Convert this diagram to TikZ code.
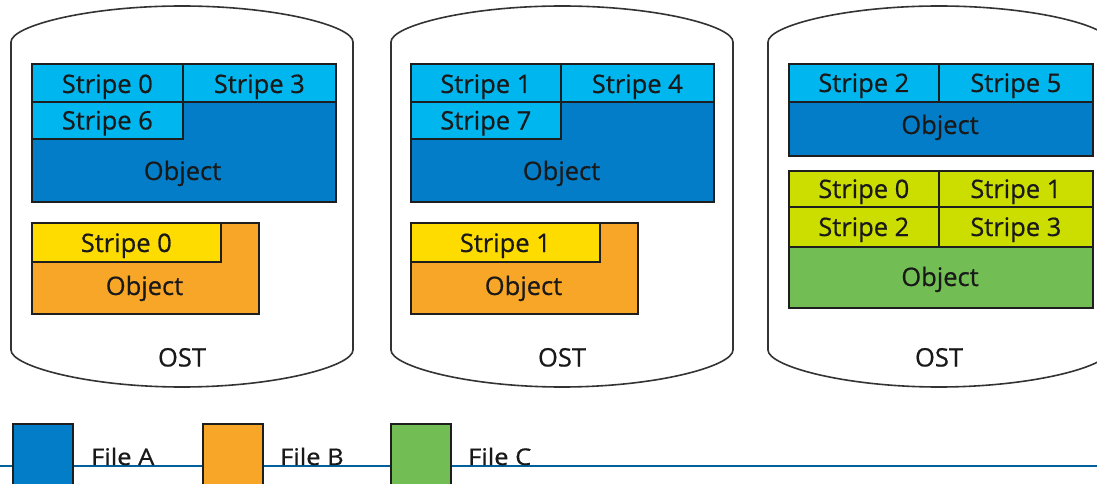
\documentclass[tikz,border=0pt]{standalone}
\usepackage{fontspec}
\setmainfont{Open Sans}[FakeBold=0.6]
\definecolor{lblue}{RGB}{0,182,238}
\definecolor{dblue}{RGB}{3,125,200}
\definecolor{yel}{RGB}{255,220,0}
\definecolor{orng}{RGB}{247,166,40}
\definecolor{lime}{RGB}{204,222,0}
\definecolor{grn}{RGB}{114,190,84}
\definecolor{lineblue}{RGB}{0,96,155}
\definecolor{edge}{RGB}{30,30,30}
\tikzset{
  box/.style={draw=edge, line width=1.6pt, inner sep=0pt, anchor=north west},
  lbl/.style={font=\fontsize{25.5}{30}\selectfont, text=black!90, inner sep=0pt, anchor=base},
  ost/.style={draw=black!80, line width=1.6pt, fill=white},
}
\newcommand{\cyl}[1]{%
  \draw[ost] (#1-171,350) -- (#1-171,42) .. controls (#1-171,26) and (#1-95,6) .. (#1,6)
    .. controls (#1+95,6) and (#1+171,26) .. (#1+171,42) -- (#1+171,350)
    .. controls (#1+171,366) and (#1+95,387) .. (#1,387)
    .. controls (#1-95,387) and (#1-171,366) .. (#1-171,350) -- cycle;}
\begin{document}
\begin{tikzpicture}[x=1pt,y=-1pt]
\clip (0,0) rectangle (1097,484);
\fill[white] (0,0) rectangle (1097,484);
% cylinders
\cyl{182}
\cyl{562}
\cyl{939}
% ---- OST 1
\node[box, fill=dblue, minimum width=304pt, minimum height=138pt] (a1obj) at (31,63) {};
\node[box, fill=lblue, minimum width=151pt, minimum height=38pt] (a1s0) at (31,63) {};
\node[box, fill=lblue, minimum width=153pt, minimum height=38pt] (a1s3) at (182,63) {};
\node[box, fill=lblue, minimum width=151pt, minimum height=37pt] (a1s6) at (31,101) {};
\node[lbl] at ([yshift=-30pt]a1s0.north) {Stripe 0};
\node[lbl] at ([yshift=-30pt]a1s3.north) {Stripe 3};
\node[lbl] at ([yshift=-28.5pt]a1s6.north) {Stripe 6};
\node[lbl] (a1objt) at (182.5,180) {Object};
\node[box, fill=orng, minimum width=227pt, minimum height=91pt] (b1obj) at (31,222) {};
\node[box, fill=yel, minimum width=189pt, minimum height=39pt] (b1s0) at (31,222) {};
\node[lbl] at ([yshift=-30pt]b1s0.north) {Stripe 0};
\node[lbl] (b1objt) at (144.5,295) {Object};
\node[lbl] (ost1) at (182,366.5) {OST};
% ---- OST 2
\node[box, fill=dblue, minimum width=303pt, minimum height=138pt] (a2obj) at (410,63) {};
\node[box, fill=lblue, minimum width=150pt, minimum height=38pt] (a2s1) at (410,63) {};
\node[box, fill=lblue, minimum width=153pt, minimum height=38pt] (a2s4) at (560,63) {};
\node[box, fill=lblue, minimum width=150pt, minimum height=37pt] (a2s7) at (410,101) {};
\node[lbl] at ([yshift=-30pt]a2s1.north) {Stripe 1};
\node[lbl] at ([yshift=-30pt]a2s4.north) {Stripe 4};
\node[lbl] at ([yshift=-28.5pt]a2s7.north) {Stripe 7};
\node[lbl] (a2objt) at (561.5,180) {Object};
\node[box, fill=orng, minimum width=227pt, minimum height=91pt] (b2obj) at (410,222) {};
\node[box, fill=yel, minimum width=189pt, minimum height=39pt] (b2s1) at (410,222) {};
\node[lbl] at ([yshift=-30pt]b2s1.north) {Stripe 1};
\node[lbl] (b2objt) at (523.5,295) {Object};
\node[lbl] (ost2) at (562,366.5) {OST};
% ---- OST 3
\node[box, fill=dblue, minimum width=304pt, minimum height=92pt] (a3obj) at (788,63) {};
\node[box, fill=lblue, minimum width=150pt, minimum height=38pt] (a3s2) at (788,63) {};
\node[box, fill=lblue, minimum width=154pt, minimum height=38pt] (a3s5) at (938,63) {};
\node[lbl] at ([yshift=-29pt]a3s2.north) {Stripe 2};
\node[lbl] at ([yshift=-29pt]a3s5.north) {Stripe 5};
\node[lbl] (a3objt) at (940,134) {Object};
\node[box, fill=grn, minimum width=304pt, minimum height=137pt] (c3obj) at (788,170) {};
\node[box, fill=lime, minimum width=150pt, minimum height=36pt] (c3s0) at (788,170) {};
\node[box, fill=lime, minimum width=154pt, minimum height=36pt] (c3s1) at (938,170) {};
\node[box, fill=lime, minimum width=150pt, minimum height=40pt] (c3s2) at (788,206) {};
\node[box, fill=lime, minimum width=154pt, minimum height=40pt] (c3s3) at (938,206) {};
\node[lbl] at ([yshift=-28pt]c3s0.north) {Stripe 0};
\node[lbl] at ([yshift=-28pt]c3s1.north) {Stripe 1};
\node[lbl] at ([yshift=-30pt]c3s2.north) {Stripe 2};
\node[lbl] at ([yshift=-30pt]c3s3.north) {Stripe 3};
\node[lbl] (c3objt) at (940,286) {Object};
\node[lbl] (ost3) at (939,366.5) {OST};
% ---- legend
\coordinate (ll) at (0,466);
\coordinate (lr) at (1097,466);
\draw[lineblue, line width=2.8pt] (ll) -- (lr);
\node[box, fill=dblue, minimum width=60pt, minimum height=80pt] (keyA) at (12,423) {};
\node[box, fill=orng, minimum width=60pt, minimum height=80pt] (keyB) at (202,423) {};
\node[box, fill=grn, minimum width=60pt, minimum height=80pt] (keyC) at (390,423) {};
\node[lbl, anchor=base west, yscale=0.9] (tA) at (91,465) {File A};
\node[lbl, anchor=base west, yscale=0.9] (tB) at (280,465) {File B};
\node[lbl, anchor=base west, yscale=0.9] (tC) at (468,465) {File C};
\end{tikzpicture}
\end{document}
